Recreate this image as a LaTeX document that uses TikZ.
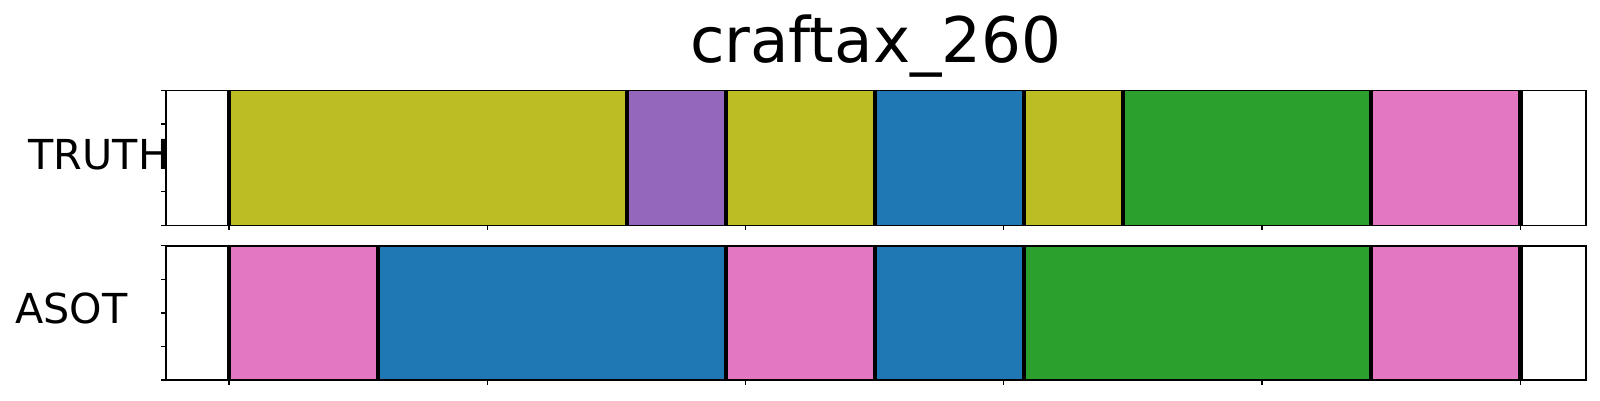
\documentclass[tikz,border=0pt]{standalone}
\usepackage{fontspec}
\setmainfont{DejaVu Sans}
\definecolor{tolive}{HTML}{BCBD22}
\definecolor{tpurple}{HTML}{9467BD}
\definecolor{tblue}{HTML}{1F77B4}
\definecolor{tgreen}{HTML}{2CA02C}
\definecolor{tpink}{HTML}{E377C2}
\tikzset{
  seg/.style={fill=#1},
  bound/.style={line width=4.4pt},
  frame/.style={line width=1.6pt},
  tickmark/.style={line width=1.3pt},
  lab/.style={inner sep=0pt, anchor=base west, font=\fontsize{41.3}{45}\selectfont},
}
\begin{document}
\begin{tikzpicture}[x=1pt,y=-1pt]
\useasboundingbox (0,0) rectangle (1600,400);
\fill[white] (0,0) rectangle (1600,400);
% title
\node[inner sep=0pt, anchor=base, font=\fontsize{62.8}{68}\selectfont] (title) at (875.7,62.7) {craftax\_260};
% TRUTH axis
\foreach \a/\b/\c in {229/626.7/tolive, 626.7/726/tpurple, 726/874.7/tolive, 874.7/1023.7/tblue, 1023.7/1122.7/tolive, 1122.7/1370.7/tgreen, 1370.7/1520.3/tpink}
  {\fill[seg=\c] (\a,90.3) rectangle (\b,225.3);}
\foreach \x in {229,626.7,726,874.7,1023.7,1122.7,1370.7,1520.3}
  {\draw[bound] (\x,90.3) -- (\x,225.3);}
% ASOT axis
\foreach \a/\b/\c in {229/377.7/tpink, 377.7/726/tblue, 726/874.7/tpink, 874.7/1023.7/tblue, 1023.7/1370.7/tgreen, 1370.7/1520.3/tpink}
  {\fill[seg=\c] (\a,245.7) rectangle (\b,380);}
\foreach \x in {229,377.7,726,874.7,1023.7,1370.7,1520.3}
  {\draw[bound] (\x,245.7) -- (\x,380);}
% frames
\draw[frame] (165.7,90.3) rectangle (1585.7,225.3);
\draw[frame] (165.7,245.7) rectangle (1585.7,380);
% ticks
\foreach \i in {0,...,4}{
  \draw[tickmark] (165.7,90.3+33.75*\i) -- ++(-4.7,0);
  \draw[tickmark] (165.7,245.7+33.575*\i) -- ++(-4.7,0);
}
\foreach \i in {0,...,5}{
  \draw[tickmark] (229+258.26*\i,225.3) -- ++(0,4.5);
  \draw[tickmark] (229+258.26*\i,380) -- ++(0,4.5);
}
% labels
\node[lab] (truth) at (28.5,169.3) {TRUTH};
\node[lab] (asot) at (15.3,323.3) {ASOT};
\end{tikzpicture}
\end{document}
